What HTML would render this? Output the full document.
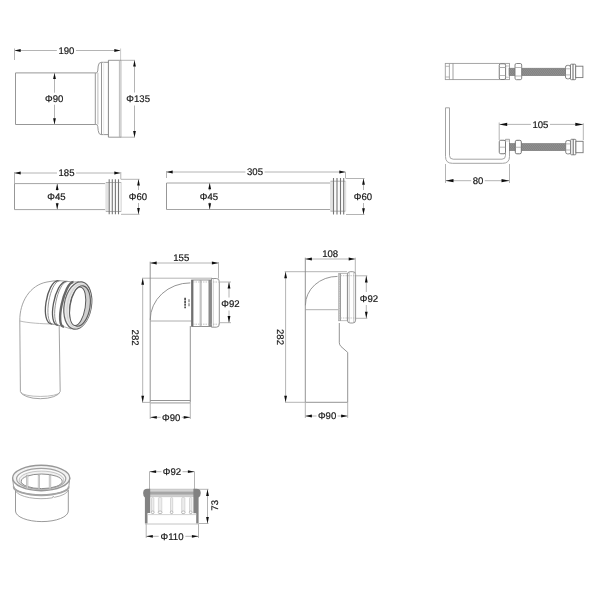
<!DOCTYPE html>
<html><head><meta charset="utf-8"><style>
html,body{margin:0;padding:0;background:#fff;}
svg{display:block;will-change:transform;}
text{font-family:"Liberation Sans",sans-serif;fill:#1a1a1a;text-rendering:geometricPrecision;stroke:#1a1a1a;stroke-width:0.2px;}
</style></head><body>
<svg width="600" height="600" viewBox="0 0 600 600">
<defs><filter id="soft" x="0" y="0" width="600" height="600" filterUnits="userSpaceOnUse"><feGaussianBlur stdDeviation="0.4"/></filter><pattern id="thr" width="1.6" height="1.6" patternUnits="userSpaceOnUse" patternTransform="rotate(35)"><rect width="1.6" height="1.6" fill="#929292"/><rect width="0.7" height="1.6" fill="#7e7e7e"/></pattern></defs>
<rect width="600" height="600" fill="#fff"/>
<g filter="url(#soft)">
<line x1="14.5" y1="50.5" x2="56.86000000000001" y2="50.5" stroke="#ababab" stroke-width="0.9" />
<line x1="75.94" y1="50.5" x2="120.5" y2="50.5" stroke="#ababab" stroke-width="0.9" />
<text x="66.4" y="53.94" text-anchor="middle" font-size="9.6">190</text>
<polygon points="14.50,50.50 20.70,49.10 20.70,51.90" fill="#111"/>
<polygon points="120.50,50.50 114.30,49.10 114.30,51.90" fill="#111"/>
<line x1="14.5" y1="48.5" x2="14.5" y2="60" stroke="#ababab" stroke-width="0.9" />
<line x1="120.6" y1="48.5" x2="120.6" y2="60.5" stroke="#c4c4c4" stroke-width="0.9" />
<line x1="15.5" y1="72.9" x2="95.3" y2="72.9" stroke="#979797" stroke-width="1.0" />
<line x1="15.5" y1="124.5" x2="95.3" y2="124.5" stroke="#979797" stroke-width="1.0" />
<line x1="15.5" y1="72.9" x2="15.5" y2="124.5" stroke="#979797" stroke-width="1.0" />
<line x1="95.3" y1="72.9" x2="95.3" y2="124.5" stroke="#979797" stroke-width="1.0" />
<path d="M95.3 72.9 L96.8 72.9 Q98 72.4 98.2 66 Q98.6 62.3 101.3 62.3 L108.4 62.3" stroke="#979797" fill="none" stroke-width="1.0" />
<path d="M95.3 124.5 L96.8 124.5 Q98 125 98.2 130.5 Q98.6 134.6 101 134.6 L108.4 134.6" stroke="#979797" fill="none" stroke-width="1.0" />
<line x1="97.9" y1="72.9" x2="97.9" y2="124.5" stroke="#aaa" stroke-width="0.8" />
<line x1="101.5" y1="62.3" x2="101.5" y2="134.6" stroke="#979797" stroke-width="1.0" />
<line x1="103.7" y1="62.3" x2="103.7" y2="134.6" stroke="#e4e4e4" stroke-width="0.8" />
<rect x="119.6" y="60.3" width="2.1" height="76.9" rx="0" stroke="none" fill="#d2d2d2" stroke-width="0" />
<path d="M108.4 60.3 L121.2 60.3 M108.4 137.2 L121.2 137.2" stroke="#999" fill="none" stroke-width="1.0" />
<line x1="108.4" y1="60.3" x2="108.4" y2="137.2" stroke="#888" stroke-width="1.0" />
<line x1="119.4" y1="60.3" x2="119.4" y2="137.2" stroke="#b0b0b0" stroke-width="0.8" />
<line x1="54.5" y1="72.9" x2="54.5" y2="92.7" stroke="#ababab" stroke-width="0.9" />
<line x1="54.5" y1="104.7" x2="54.5" y2="124.5" stroke="#ababab" stroke-width="0.9" />
<text x="54.2" y="102.14" text-anchor="middle" font-size="9.6">Φ90</text>
<polygon points="54.50,72.90 53.10,79.10 55.90,79.10" fill="#111"/>
<polygon points="54.50,124.50 53.10,118.30 55.90,118.30" fill="#111"/>
<line x1="120.5" y1="60.3" x2="135" y2="60.3" stroke="#ababab" stroke-width="0.9" />
<line x1="120.5" y1="137.2" x2="135" y2="137.2" stroke="#ababab" stroke-width="0.9" />
<line x1="134.5" y1="60.3" x2="134.5" y2="92.5" stroke="#ababab" stroke-width="0.9" />
<line x1="134.5" y1="105.5" x2="134.5" y2="137.2" stroke="#ababab" stroke-width="0.9" />
<text x="138.2" y="102.44" text-anchor="middle" font-size="9.6">Φ135</text>
<polygon points="134.50,60.30 133.10,66.50 135.90,66.50" fill="#111"/>
<polygon points="134.50,137.20 133.10,131.00 135.90,131.00" fill="#111"/>
<line x1="14.5" y1="173" x2="56.96" y2="173" stroke="#ababab" stroke-width="0.9" />
<line x1="76.03999999999999" y1="173" x2="120.5" y2="173" stroke="#ababab" stroke-width="0.9" />
<text x="66.5" y="176.44" text-anchor="middle" font-size="9.6">185</text>
<polygon points="14.50,173.00 20.70,171.60 20.70,174.40" fill="#111"/>
<polygon points="120.50,173.00 114.30,171.60 114.30,174.40" fill="#111"/>
<line x1="14.5" y1="172" x2="14.5" y2="183.7" stroke="#ababab" stroke-width="0.9" />
<line x1="120.8" y1="172" x2="120.8" y2="179.3" stroke="#ababab" stroke-width="0.9" />
<line x1="14.5" y1="183.6" x2="105.4" y2="183.6" stroke="#a4a4a4" stroke-width="1.0" />
<line x1="14.5" y1="209.6" x2="105.4" y2="209.6" stroke="#a4a4a4" stroke-width="1.0" />
<line x1="14.5" y1="183.6" x2="14.5" y2="209.6" stroke="#979797" stroke-width="1.0" />
<rect x="105.4" y="182.5" width="16.599999999999994" height="29.0" rx="1.2" stroke="none" fill="#fbfbfb" stroke-width="0" />
<rect x="105.4" y="182.5" width="3.1" height="29.0" rx="0" stroke="none" fill="#e2e2e2" stroke-width="0" />
<rect x="120.4" y="182.5" width="1.6" height="29.0" rx="0" stroke="none" fill="#e2e2e2" stroke-width="0" />
<line x1="105.9" y1="182.5" x2="121.2" y2="182.5" stroke="#aaaaaa" stroke-width="0.9" />
<line x1="105.9" y1="211.5" x2="121.2" y2="211.5" stroke="#aaaaaa" stroke-width="0.9" />
<line x1="109.2" y1="179.3" x2="109.2" y2="214.3" stroke="#767676" stroke-width="1.1" />
<line x1="112.3" y1="179.3" x2="112.3" y2="214.3" stroke="#767676" stroke-width="1.1" />
<line x1="115.4" y1="179.3" x2="115.4" y2="214.3" stroke="#767676" stroke-width="1.1" />
<line x1="118.5" y1="179.3" x2="118.5" y2="214.3" stroke="#767676" stroke-width="1.1" />
<line x1="57.2" y1="183.7" x2="57.2" y2="190.8" stroke="#ababab" stroke-width="0.9" />
<line x1="57.2" y1="202.8" x2="57.2" y2="209.5" stroke="#ababab" stroke-width="0.9" />
<text x="56.4" y="200.24" text-anchor="middle" font-size="9.6">Φ45</text>
<polygon points="57.20,183.70 55.80,189.90 58.60,189.90" fill="#111"/>
<polygon points="57.20,209.50 55.80,203.30 58.60,203.30" fill="#111"/>
<line x1="121" y1="179.3" x2="139.5" y2="179.3" stroke="#ababab" stroke-width="0.9" />
<line x1="121" y1="214.3" x2="139.5" y2="214.3" stroke="#ababab" stroke-width="0.9" />
<line x1="138.5" y1="179.3" x2="138.5" y2="190.0" stroke="#ababab" stroke-width="0.9" />
<line x1="138.5" y1="203.0" x2="138.5" y2="214.3" stroke="#ababab" stroke-width="0.9" />
<text x="138" y="199.94" text-anchor="middle" font-size="9.6">Φ60</text>
<polygon points="138.50,179.30 137.10,185.50 139.90,185.50" fill="#111"/>
<polygon points="138.50,214.30 137.10,208.10 139.90,208.10" fill="#111"/>
<line x1="166.5" y1="172" x2="245.46" y2="172" stroke="#ababab" stroke-width="0.9" />
<line x1="264.54" y1="172" x2="345.5" y2="172" stroke="#ababab" stroke-width="0.9" />
<text x="255" y="175.44" text-anchor="middle" font-size="9.6">305</text>
<polygon points="166.50,172.00 172.70,170.60 172.70,173.40" fill="#111"/>
<polygon points="345.50,172.00 339.30,170.60 339.30,173.40" fill="#111"/>
<line x1="166.5" y1="171" x2="166.5" y2="178" stroke="#ababab" stroke-width="0.9" />
<line x1="345.5" y1="172" x2="345.5" y2="178.5" stroke="#ababab" stroke-width="0.9" />
<line x1="166.5" y1="183" x2="330" y2="183" stroke="#a4a4a4" stroke-width="1.0" />
<line x1="166.5" y1="209.5" x2="330" y2="209.5" stroke="#a4a4a4" stroke-width="1.0" />
<line x1="166.5" y1="183" x2="166.5" y2="209.5" stroke="#979797" stroke-width="1.0" />
<rect x="330" y="181.2" width="16.19999999999999" height="30.0" rx="1.2" stroke="none" fill="#fbfbfb" stroke-width="0" />
<rect x="330" y="181.2" width="3.1" height="30.0" rx="0" stroke="none" fill="#e2e2e2" stroke-width="0" />
<rect x="344.59999999999997" y="181.2" width="1.6" height="30.0" rx="0" stroke="none" fill="#e2e2e2" stroke-width="0" />
<line x1="330.5" y1="181.2" x2="345.4" y2="181.2" stroke="#aaaaaa" stroke-width="0.9" />
<line x1="330.5" y1="211.2" x2="345.4" y2="211.2" stroke="#aaaaaa" stroke-width="0.9" />
<line x1="333.5" y1="178" x2="333.5" y2="214.5" stroke="#767676" stroke-width="1.1" />
<line x1="337" y1="178" x2="337" y2="214.5" stroke="#767676" stroke-width="1.1" />
<line x1="340.5" y1="178" x2="340.5" y2="214.5" stroke="#767676" stroke-width="1.1" />
<line x1="343.7" y1="178" x2="343.7" y2="214.5" stroke="#767676" stroke-width="1.1" />
<line x1="209.7" y1="183" x2="209.7" y2="190.5" stroke="#ababab" stroke-width="0.9" />
<line x1="209.7" y1="202.5" x2="209.7" y2="209.5" stroke="#ababab" stroke-width="0.9" />
<text x="208.9" y="199.94" text-anchor="middle" font-size="9.6">Φ45</text>
<polygon points="209.70,183.00 208.30,189.20 211.10,189.20" fill="#111"/>
<polygon points="209.70,209.50 208.30,203.30 211.10,203.30" fill="#111"/>
<line x1="346" y1="178.5" x2="364.5" y2="178.5" stroke="#ababab" stroke-width="0.9" />
<line x1="346" y1="214.5" x2="364.5" y2="214.5" stroke="#ababab" stroke-width="0.9" />
<line x1="363.5" y1="178.5" x2="363.5" y2="190.0" stroke="#ababab" stroke-width="0.9" />
<line x1="363.5" y1="203.0" x2="363.5" y2="214.5" stroke="#ababab" stroke-width="0.9" />
<text x="363" y="199.94" text-anchor="middle" font-size="9.6">Φ60</text>
<polygon points="363.50,178.50 362.10,184.70 364.90,184.70" fill="#111"/>
<polygon points="363.50,214.50 362.10,208.30 364.90,208.30" fill="#111"/>
<rect x="445.3" y="63.4" width="64.2" height="16.2" rx="0" stroke="#9c9c9c" fill="#fff" stroke-width="0.9" />
<line x1="449.4" y1="63.4" x2="449.4" y2="79.7" stroke="#999" stroke-width="0.8" />
<line x1="453" y1="63.4" x2="453" y2="79.7" stroke="#888" stroke-width="0.8" />
<line x1="445.4" y1="66.3" x2="449.4" y2="66.3" stroke="#999" stroke-width="0.7" />
<line x1="445.4" y1="77" x2="449.4" y2="77" stroke="#999" stroke-width="0.7" />
<rect x="499.25" y="63.75" width="6.35" height="15.75" rx="1.5" stroke="#7a7a7a" fill="#fff" stroke-width="1.0" />
<line x1="499.25" y1="67.5" x2="505.6" y2="67.5" stroke="#aaa" stroke-width="1.0" />
<line x1="499.25" y1="75.5" x2="505.6" y2="75.5" stroke="#999" stroke-width="0.7" />
<line x1="505.6" y1="66" x2="509.5" y2="66" stroke="#aaa" stroke-width="0.7" />
<line x1="505.6" y1="77.25" x2="509.5" y2="77.25" stroke="#aaa" stroke-width="0.7" />
<rect x="509" y="68.2" width="56.5" height="7.5" rx="0" stroke="#777" fill="url(#thr)" stroke-width="0.6" />
<rect x="515" y="63.5" width="6.7000000000000455" height="16.200000000000003" rx="1.5" stroke="#777" fill="#fff" stroke-width="0.9" />
<line x1="515" y1="67.5" x2="521.7" y2="67.5" stroke="#999" stroke-width="0.7" />
<line x1="515" y1="76" x2="521.7" y2="76" stroke="#999" stroke-width="0.7" />
<rect x="565.5" y="65.4" width="5.0" height="13.399999999999991" rx="1.8" stroke="#777" fill="#fff" stroke-width="0.9" />
<line x1="565.5" y1="68.8" x2="570.5" y2="68.8" stroke="#999" stroke-width="0.7" />
<line x1="565.5" y1="74.9" x2="570.5" y2="74.9" stroke="#999" stroke-width="0.7" />
<rect x="570.5" y="64.2" width="5.2" height="15.5" rx="0.8" stroke="#777" fill="#fff" stroke-width="0.9" />
<line x1="573.0" y1="64.2" x2="573.0" y2="79.7" stroke="#666" stroke-width="1.0" />
<rect x="575.7" y="66.2" width="7.2" height="11.4" rx="0" stroke="#777" fill="#fff" stroke-width="0.9" />
<path d="M445.5 107.8 L449.5 107.8 L449.5 155.5 Q449.5 159.2 453.2 159.2 L502 159.2 Q505.5 159.2 505.5 155.5 L505.5 139.3 L509.5 139.3 L509.5 156.5 Q509.5 163.3 502.7 163.3 L452.3 163.3 Q445.5 163.3 445.5 156.5 Z" stroke="#9a9a9a" fill="#fff" stroke-width="0.9" />
<rect x="509.5" y="143.5" width="56.200000000000045" height="7.199999999999989" rx="0" stroke="#777" fill="url(#thr)" stroke-width="0.6" />
<rect x="499.25" y="140.25" width="6.25" height="13.5" rx="1.5" stroke="#7a7a7a" fill="#fff" stroke-width="1.0" />
<line x1="505.5" y1="141" x2="509.5" y2="141" stroke="#bbb" stroke-width="0.7" />
<line x1="499.2" y1="147.2" x2="505.5" y2="147.2" stroke="#999" stroke-width="0.7" />
<rect x="515.3" y="140.3" width="6" height="13.5" rx="1.5" stroke="#707070" fill="#fff" stroke-width="1.0" />
<line x1="515.3" y1="147.25" x2="521.3" y2="147.25" stroke="#999" stroke-width="0.7" />
<rect x="565.7" y="140.5" width="5.0" height="13.400000000000006" rx="1.8" stroke="#777" fill="#fff" stroke-width="0.9" />
<line x1="565.7" y1="143.9" x2="570.7" y2="143.9" stroke="#999" stroke-width="0.7" />
<line x1="565.7" y1="150.0" x2="570.7" y2="150.0" stroke="#999" stroke-width="0.7" />
<rect x="570.7" y="139.29999999999998" width="5.2" height="15.5" rx="0.8" stroke="#777" fill="#fff" stroke-width="0.9" />
<line x1="573.2" y1="139.29999999999998" x2="573.2" y2="154.79999999999998" stroke="#666" stroke-width="1.0" />
<rect x="575.9000000000001" y="141.29999999999998" width="7.2" height="11.4" rx="0" stroke="#777" fill="#fff" stroke-width="0.9" />
<line x1="499.2" y1="124.4" x2="530.86" y2="124.4" stroke="#ababab" stroke-width="0.9" />
<line x1="549.9399999999999" y1="124.4" x2="583.3" y2="124.4" stroke="#ababab" stroke-width="0.9" />
<text x="540.4" y="127.84" text-anchor="middle" font-size="9.6">105</text>
<polygon points="499.20,124.40 507.20,122.80 507.20,126.00" fill="#111"/>
<polygon points="583.30,124.40 575.30,122.80 575.30,126.00" fill="#111"/>
<line x1="499.2" y1="122.5" x2="499.2" y2="140" stroke="#ababab" stroke-width="0.9" />
<line x1="583.3" y1="123.3" x2="583.3" y2="140" stroke="#ababab" stroke-width="0.9" />
<line x1="445.5" y1="180.7" x2="471.24" y2="180.7" stroke="#ababab" stroke-width="0.9" />
<line x1="484.76" y1="180.7" x2="509.5" y2="180.7" stroke="#ababab" stroke-width="0.9" />
<text x="478" y="184.14" text-anchor="middle" font-size="9.6">80</text>
<polygon points="445.50,180.70 453.50,179.10 453.50,182.30" fill="#111"/>
<polygon points="509.50,180.70 501.50,179.10 501.50,182.30" fill="#111"/>
<line x1="445.5" y1="164" x2="445.5" y2="183" stroke="#ababab" stroke-width="0.9" />
<line x1="509.5" y1="164" x2="509.5" y2="183" stroke="#ababab" stroke-width="0.9" />
<line x1="19.8" y1="321" x2="20.4" y2="391.5" stroke="#999" stroke-width="0.9" />
<line x1="59.2" y1="326" x2="60.2" y2="391.5" stroke="#999" stroke-width="0.9" />
<path d="M20.4 391.5 A20 8 0 0 0 60.2 391.5" stroke="#999" fill="none" stroke-width="0.9" />
<path d="M20.6 392.3 A19.8 4.6 0 0 0 60.0 392.3" stroke="#aaa" fill="none" stroke-width="0.8" />
<path d="M19.8 321 C19.5 302 30 285 47 282 C51 281.3 55 280.6 58.6 280.6 L66.5 281.3 L73.5 282 L79 281.8" stroke="#999" fill="none" stroke-width="0.9" />
<path d="M19.8 321 C28 323 42 323.8 52 324" stroke="#aaa" fill="none" stroke-width="0.8" />
<path d="M52 324 L58.3 325.3 L63.9 326.7 L71.2 329" stroke="#999" fill="none" stroke-width="0.8" />
<path d="M58.6 280.6 C46.20 280.6 39.60 324 52 324" stroke="#5a5a5a" fill="none" stroke-width="1.3" />
<path d="M60.2 280.7 C49.13 280.7 42.53 324.3 53.6 324.3" stroke="#888" fill="none" stroke-width="0.9" />
<path d="M66.5 281.3 C54.63 281.3 46.43 325.3 58.3 325.3" stroke="#5a5a5a" fill="none" stroke-width="1.3" />
<path d="M67.7 281.4 C56.77 281.4 48.97 325.6 59.9 325.6" stroke="#888" fill="none" stroke-width="0.9" />
<path d="M73.5 282 C64.23 282 54.63 326.7 63.9 326.7" stroke="#666" fill="none" stroke-width="2.4" />
<ellipse cx="77.8" cy="305.5" rx="13.6" ry="23.9" transform="rotate(10 77.8 305.5)" stroke="#666" fill="#e8e8e8" stroke-width="1.2" />
<ellipse cx="78.9" cy="306" rx="11.6" ry="22" transform="rotate(9 78.9 306)" stroke="#d4d4d4" fill="none" stroke-width="1.2" />
<ellipse cx="80" cy="306" rx="10" ry="20.4" transform="rotate(9 80 306)" stroke="#5a5a5a" fill="#cfcfcf" stroke-width="1.1" />
<ellipse cx="77.7" cy="306.3" rx="7.6" ry="19.4" transform="rotate(9 77.7 306.3)" stroke="#5a5a5a" fill="#fff" stroke-width="1.0" />
<line x1="150.1" y1="263" x2="218.5" y2="263" stroke="#ababab" stroke-width="0.9" />
<polygon points="150.10,263.00 156.70,261.60 156.70,264.40" fill="#111"/>
<polygon points="218.50,263.00 211.90,261.60 211.90,264.40" fill="#111"/>
<text x="181.3" y="261.04" text-anchor="middle" font-size="9.6">155</text>
<line x1="218.5" y1="262" x2="218.5" y2="278.5" stroke="#ababab" stroke-width="0.9" />
<line x1="142" y1="278.2" x2="212" y2="278.2" stroke="#ababab" stroke-width="0.9" />
<line x1="142.7" y1="278.2" x2="142.7" y2="402.4" stroke="#ababab" stroke-width="0.9" />
<polygon points="142.70,278.20 141.30,284.80 144.10,284.80" fill="#111"/>
<polygon points="142.70,402.40 141.30,395.80 144.10,395.80" fill="#111"/>
<line x1="142" y1="402.4" x2="150.5" y2="402.4" stroke="#ababab" stroke-width="0.9" />
<text x="0" y="3.44" text-anchor="middle" font-size="9.6" transform="translate(135.6,337.6) rotate(90)">282</text>
<line x1="150.2" y1="261.7" x2="150.2" y2="402.4" stroke="#888" stroke-width="0.9" />
<line x1="150.2" y1="400.5" x2="190.3" y2="400.5" stroke="#888" stroke-width="0.9" />
<line x1="150.2" y1="402.8" x2="190.3" y2="402.8" stroke="#c4c4c4" stroke-width="1.8" />
<line x1="190.3" y1="326" x2="190.3" y2="402.4" stroke="#888" stroke-width="0.9" />
<path d="M150.2 320 A40.1 37.1 0 0 1 190.3 282.9" stroke="#888" fill="none" stroke-width="0.9" />
<line x1="150.2" y1="321" x2="191.7" y2="321" stroke="#999" stroke-width="0.8" />
<rect x="191.7" y="280" width="19.8" height="46.5" rx="0" stroke="#888" fill="#fff" stroke-width="0.9" />
<rect x="191.3" y="280" width="2.1" height="46.5" rx="0" stroke="none" fill="#6f6f6f" stroke-width="0" />
<line x1="200.2" y1="280" x2="200.2" y2="326.5" stroke="#999" stroke-width="0.8" />
<line x1="201.3" y1="280" x2="201.3" y2="326.5" stroke="#aaa" stroke-width="0.7" />
<rect x="208.5" y="280" width="3" height="46.5" rx="0" stroke="none" fill="#8a8a8a" stroke-width="0" />
<path d="M211.5 278.5 L216.3 278.5 Q219.3 278.5 219.3 281.5 L219.3 324.2 Q219.3 327.2 216.3 327.2 L211.5 327.2 Z" stroke="#888" fill="#fff" stroke-width="0.9" />
<line x1="213.3" y1="278.5" x2="213.3" y2="327.2" stroke="#bbb" stroke-width="0.7" />
<line x1="193" y1="282" x2="219" y2="282" stroke="#aaa" stroke-width="0.7" stroke-dasharray="1.5 1"/>
<line x1="193" y1="324.2" x2="219" y2="324.2" stroke="#aaa" stroke-width="0.7" stroke-dasharray="1.5 1"/>
<line x1="185.1" y1="297.7" x2="185.1" y2="308.3" stroke="#444" stroke-width="1.6" stroke-dasharray="2.3 0.6"/>
<line x1="189" y1="299.2" x2="189" y2="306.5" stroke="#777" stroke-width="1.2" stroke-dasharray="3 1"/>
<line x1="219.5" y1="282" x2="231" y2="282" stroke="#ababab" stroke-width="0.9" />
<line x1="219.5" y1="322.7" x2="231" y2="322.7" stroke="#ababab" stroke-width="0.9" />
<line x1="229" y1="282" x2="229" y2="297.5" stroke="#ababab" stroke-width="0.9" />
<line x1="229" y1="310.5" x2="229" y2="322.7" stroke="#ababab" stroke-width="0.9" />
<text x="230.5" y="307.44" text-anchor="middle" font-size="9.6">Φ92</text>
<polygon points="229.00,282.00 227.60,288.60 230.40,288.60" fill="#111"/>
<polygon points="229.00,322.70 227.60,316.10 230.40,316.10" fill="#111"/>
<line x1="150.2" y1="402.4" x2="150.2" y2="419" stroke="#ababab" stroke-width="0.9" />
<line x1="190.3" y1="402.4" x2="190.3" y2="419" stroke="#ababab" stroke-width="0.9" />
<line x1="150.2" y1="417.3" x2="160.64" y2="417.3" stroke="#ababab" stroke-width="0.9" />
<line x1="181.76" y1="417.3" x2="190.3" y2="417.3" stroke="#ababab" stroke-width="0.9" />
<text x="171.2" y="420.74" text-anchor="middle" font-size="9.6">Φ90</text>
<polygon points="150.20,417.30 156.80,415.90 156.80,418.70" fill="#111"/>
<polygon points="190.30,417.30 183.70,415.90 183.70,418.70" fill="#111"/>
<line x1="305.3" y1="259" x2="355.3" y2="259" stroke="#ababab" stroke-width="0.9" />
<polygon points="305.30,259.00 311.90,257.60 311.90,260.40" fill="#111"/>
<polygon points="355.30,259.00 348.70,257.60 348.70,260.40" fill="#111"/>
<text x="330.2" y="257.14" text-anchor="middle" font-size="9.6">108</text>
<line x1="355.3" y1="257.7" x2="355.3" y2="273" stroke="#ababab" stroke-width="0.9" />
<line x1="284.7" y1="271.7" x2="347" y2="271.7" stroke="#ababab" stroke-width="0.9" />
<line x1="285.6" y1="271.7" x2="285.6" y2="402.3" stroke="#ababab" stroke-width="0.9" />
<polygon points="285.60,271.70 284.20,278.30 287.00,278.30" fill="#111"/>
<polygon points="285.60,402.30 284.20,395.70 287.00,395.70" fill="#111"/>
<line x1="285" y1="402.3" x2="305.3" y2="402.3" stroke="#ababab" stroke-width="0.9" />
<text x="0" y="3.44" text-anchor="middle" font-size="9.6" transform="translate(280.3,337) rotate(90)">282</text>
<line x1="305.3" y1="257.7" x2="305.3" y2="402.3" stroke="#888" stroke-width="0.9" />
<line x1="305.3" y1="402.3" x2="347.7" y2="402.3" stroke="#888" stroke-width="0.9" />
<path d="M339.3 323 L339.3 342.8 Q339.5 345 341 346.5 L347.7 352.4 L347.7 402.3" stroke="#888" fill="none" stroke-width="0.9" />
<path d="M305.4 305.3 A32 28.9 0 0 1 337.5 276.4" stroke="#8a8a8a" fill="none" stroke-width="0.9" />
<line x1="305.3" y1="309.7" x2="338.6" y2="309.7" stroke="#999" stroke-width="0.8" />
<rect x="338.4" y="273.6" width="9" height="47.1" rx="0" stroke="#b0b0b0" fill="#fff" stroke-width="0.8" />
<line x1="339.1" y1="274" x2="339.1" y2="320.5" stroke="#c4c4c4" stroke-width="1.0" stroke-dasharray="1 0.7"/>
<line x1="340.2" y1="273.6" x2="340.2" y2="320.7" stroke="#707070" stroke-width="1.0" />
<line x1="340.4" y1="275.7" x2="356" y2="275.7" stroke="#b0b0b0" stroke-width="0.7" stroke-dasharray="1.5 1"/>
<line x1="340.4" y1="318" x2="356" y2="318" stroke="#b0b0b0" stroke-width="0.7" stroke-dasharray="1.5 1"/>
<rect x="347.4" y="271.7" width="8.2" height="51.3" rx="2.8" stroke="#888" fill="none" stroke-width="0.9" />
<line x1="349.2" y1="272.5" x2="349.2" y2="322.2" stroke="#aaa" stroke-width="0.7" />
<line x1="353.8" y1="272.5" x2="353.8" y2="322.2" stroke="#aaa" stroke-width="0.7" />
<line x1="356" y1="275.8" x2="367.3" y2="275.8" stroke="#ababab" stroke-width="0.9" />
<line x1="356" y1="318.3" x2="367.3" y2="318.3" stroke="#ababab" stroke-width="0.9" />
<line x1="366.3" y1="275.8" x2="366.3" y2="292.0" stroke="#ababab" stroke-width="0.9" />
<line x1="366.3" y1="305.0" x2="366.3" y2="318.3" stroke="#ababab" stroke-width="0.9" />
<text x="369" y="301.94" text-anchor="middle" font-size="9.6">Φ92</text>
<polygon points="366.30,275.80 364.90,282.40 367.70,282.40" fill="#111"/>
<polygon points="366.30,318.30 364.90,311.70 367.70,311.70" fill="#111"/>
<line x1="305.3" y1="402.3" x2="305.3" y2="418" stroke="#ababab" stroke-width="0.9" />
<line x1="347.7" y1="402.3" x2="347.7" y2="418" stroke="#ababab" stroke-width="0.9" />
<line x1="305.3" y1="416" x2="316.54" y2="416" stroke="#ababab" stroke-width="0.9" />
<line x1="337.66" y1="416" x2="347.7" y2="416" stroke="#ababab" stroke-width="0.9" />
<text x="327.1" y="419.44" text-anchor="middle" font-size="9.6">Φ90</text>
<polygon points="305.30,416.00 311.90,414.60 311.90,417.40" fill="#111"/>
<polygon points="347.70,416.00 341.10,414.60 341.10,417.40" fill="#111"/>
<line x1="15.5" y1="490" x2="15.5" y2="511" stroke="#8f8f8f" stroke-width="0.9" />
<line x1="68.3" y1="490" x2="68.3" y2="511" stroke="#8f8f8f" stroke-width="0.9" />
<path d="M15.5 511 A26.4 10.6 0 0 0 68.3 511" stroke="#8f8f8f" fill="none" stroke-width="0.9" />
<path d="M15.5 491 A26.4 9.6 0 0 0 52.5 497.8 L53 496.4 L54.5 497.3 A26.4 9.6 0 0 0 68.3 490" stroke="#999" fill="none" stroke-width="0.8" />
<path d="M12.6 478 L13.5 486 A27.7 9 0 0 0 68.9 486 L69.8 478" stroke="#999" fill="#fff" stroke-width="0.9" />
<path d="M13.6 486.6 A27.6 8.6 0 0 0 68.8 486.6" stroke="#a4a4a4" fill="none" stroke-width="1.9" />
<ellipse cx="41.2" cy="478" rx="28.6" ry="12.7" transform="rotate(0 41.2 478)" stroke="#989898" fill="#f3f3f3" stroke-width="1.4" />
<ellipse cx="41.2" cy="478.8" rx="24.6" ry="10.4" transform="rotate(0 41.2 478.8)" stroke="#a2a2a2" fill="#fbfbfb" stroke-width="1.2" />
<ellipse cx="41.5" cy="480" rx="22.4" ry="8.9" transform="rotate(0 41.5 480)" stroke="#b8b8b8" fill="#f1f1f1" stroke-width="0.8" />
<ellipse cx="41.7" cy="481.3" rx="20.5" ry="7.3" transform="rotate(0 41.7 481.3)" stroke="#8c8c8c" fill="#fff" stroke-width="1.0" />
<rect x="26.5" y="475.2" width="1.4" height="13.4" rx="0" stroke="#adadad" fill="#f0f0f0" stroke-width="0.7" />
<rect x="38.199999999999996" y="475.2" width="1.4" height="13.4" rx="0" stroke="#adadad" fill="#f0f0f0" stroke-width="0.7" />
<rect x="49.2" y="475.2" width="1.6" height="13.4" rx="0" stroke="#adadad" fill="#f0f0f0" stroke-width="0.7" />
<line x1="149.5" y1="471.7" x2="149.5" y2="489.3" stroke="#ababab" stroke-width="0.9" />
<line x1="194.5" y1="471.7" x2="194.5" y2="489.3" stroke="#ababab" stroke-width="0.9" />
<line x1="149.5" y1="471.7" x2="161.44" y2="471.7" stroke="#ababab" stroke-width="0.9" />
<line x1="182.56" y1="471.7" x2="194.5" y2="471.7" stroke="#ababab" stroke-width="0.9" />
<text x="172" y="475.14" text-anchor="middle" font-size="9.6">Φ92</text>
<polygon points="149.50,471.70 156.10,470.30 156.10,473.10" fill="#111"/>
<polygon points="194.50,471.70 187.90,470.30 187.90,473.10" fill="#111"/>
<line x1="194.5" y1="489.3" x2="208.5" y2="489.3" stroke="#ababab" stroke-width="0.9" />
<line x1="199" y1="523.5" x2="208.5" y2="523.5" stroke="#ababab" stroke-width="0.9" />
<line x1="207.5" y1="489.3" x2="207.5" y2="523.5" stroke="#ababab" stroke-width="0.9" />
<polygon points="207.50,489.30 206.10,495.90 208.90,495.90" fill="#111"/>
<polygon points="207.50,523.50 206.10,516.90 208.90,516.90" fill="#111"/>
<text x="0" y="3.44" text-anchor="middle" font-size="9.6" transform="translate(214.2,505.3) rotate(-90)">73</text>
<line x1="146.2" y1="523.5" x2="146.2" y2="538" stroke="#ababab" stroke-width="0.9" />
<line x1="198.5" y1="523.5" x2="198.5" y2="538" stroke="#ababab" stroke-width="0.9" />
<line x1="146.2" y1="536.3" x2="158.66" y2="536.3" stroke="#ababab" stroke-width="0.9" />
<line x1="185.34" y1="536.3" x2="198.5" y2="536.3" stroke="#ababab" stroke-width="0.9" />
<text x="172" y="539.74" text-anchor="middle" font-size="9.6">Φ110</text>
<polygon points="146.20,536.30 152.80,534.90 152.80,537.70" fill="#111"/>
<polygon points="198.50,536.30 191.90,534.90 191.90,537.70" fill="#111"/>
<line x1="149.5" y1="489.3" x2="194.5" y2="489.3" stroke="#aaa" stroke-width="0.8" />
<rect x="150" y="489.9" width="44" height="7.3" rx="0" stroke="none" fill="#d4d4d4" stroke-width="0" />
<rect x="150" y="491.6" width="44" height="3.0" rx="0" stroke="none" fill="#a6a6a6" stroke-width="0" />
<line x1="150" y1="496.2" x2="194" y2="496.2" stroke="#c4c4c4" stroke-width="0.8" />
<path d="M143.6 490.5 Q144.5 488.8 147 488.8 L150.2 488.8 L150.2 512.9 L147.5 512.9 L147.5 523.6 L144.9 523.6 L144.9 497.6 Q143.1 496 143.1 493 Z" stroke="none" fill="#828282" stroke-width="0" />
<path d="M200.3 490.5 Q199.4 488.8 196.9 488.8 L193.4 488.8 L193.4 513.3 L196.2 513.3 L196.2 523.6 L198.6 523.6 L198.6 497.6 Q200.8 496 200.8 493 Z" stroke="none" fill="#828282" stroke-width="0" />
<line x1="147.5" y1="514.6" x2="196.2" y2="514.6" stroke="#c8c8c8" stroke-width="0.8" />
<line x1="145" y1="524" x2="198.5" y2="524" stroke="#b5b5b5" stroke-width="0.8" />
<rect x="151.5" y="497.5" width="2.4" height="16" rx="1" stroke="#c4c4c4" fill="#ececec" stroke-width="0.6" />
<ellipse cx="152.7" cy="512.3" rx="1.4" ry="1.3" transform="rotate(0 152.7 512.3)" stroke="#999" fill="#fff" stroke-width="0.6" />
<rect x="158.4" y="497.5" width="3.4" height="16" rx="1" stroke="#c4c4c4" fill="#ececec" stroke-width="0.6" />
<ellipse cx="160.1" cy="512.3" rx="1.9" ry="1.3" transform="rotate(0 160.1 512.3)" stroke="#999" fill="#fff" stroke-width="0.6" />
<rect x="170.5" y="497.5" width="2.2" height="16" rx="1" stroke="#c4c4c4" fill="#ececec" stroke-width="0.6" />
<ellipse cx="171.6" cy="512.3" rx="1.3" ry="1.3" transform="rotate(0 171.6 512.3)" stroke="#999" fill="#fff" stroke-width="0.6" />
<rect x="181.70000000000002" y="497.5" width="3.2" height="16" rx="1" stroke="#c4c4c4" fill="#ececec" stroke-width="0.6" />
<ellipse cx="183.3" cy="512.3" rx="1.8" ry="1.3" transform="rotate(0 183.3 512.3)" stroke="#999" fill="#fff" stroke-width="0.6" />
<rect x="189.5" y="497.5" width="2.4" height="16" rx="1" stroke="#c4c4c4" fill="#ececec" stroke-width="0.6" />
<ellipse cx="190.7" cy="512.3" rx="1.4" ry="1.3" transform="rotate(0 190.7 512.3)" stroke="#999" fill="#fff" stroke-width="0.6" />
</g>
</svg></body></html>
